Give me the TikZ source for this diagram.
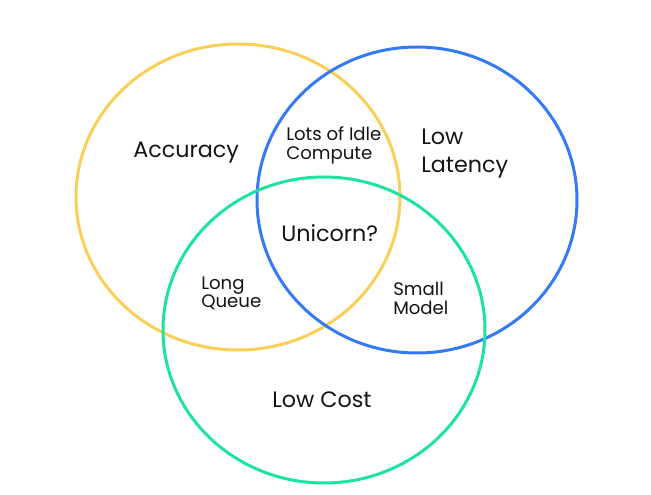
\documentclass[tikz,border=0pt]{standalone}
\usepackage{fontspec}
\setmainfont{Poppins}
\usepackage{tikz}
\usetikzlibrary{shapes.geometric}

\definecolor{accyellow}{RGB}{249,207,88}
\definecolor{latblue}{RGB}{52,121,246}
\definecolor{costgreen}{RGB}{28,227,160}
\definecolor{labelink}{RGB}{20,20,20}

\begin{document}
\begin{tikzpicture}[
  x=0.75pt, y=-0.75pt,
  ring/.style={draw=#1, ellipse, line width=2.25pt, inner sep=0pt, minimum width=243pt, minimum height=229.5pt},
  big/.style={anchor=base west, align=left, inner sep=0pt, text=labelink, font=\fontsize{16.7}{21}\selectfont},
  small/.style={anchor=base west, align=left, inner sep=0pt, text=labelink, font=\fontsize{13.6}{14.25}\selectfont}
]
\useasboundingbox (0,0) rectangle (651,495);

% the three sets
\node[ring=accyellow] (acc) at (238,197) {};
\node[ring=latblue, minimum width=240pt] (lat) at (417,200) {};
\node[ring=costgreen, minimum width=241.5pt] (cost) at (324,330) {};

% set names
\node[big] (accl) at (133,158) {Accuracy};
\node[big] (latl) at (421,173) {Low\\Latency};
\node[big] (costl) at (272,408) {Low Cost};

% overlaps
\node[small] (idle) at (286,160) {Lots of Idle\\Compute};
\node[small, font=\fontsize{13.6}{13.5}\selectfont] (queue) at (201,308) {Long\\Queue};
\node[small] (model) at (393,315) {Small\\Model};
\node[big] (mid) at (281,242) {Unicorn?};
\end{tikzpicture}
\end{document}
